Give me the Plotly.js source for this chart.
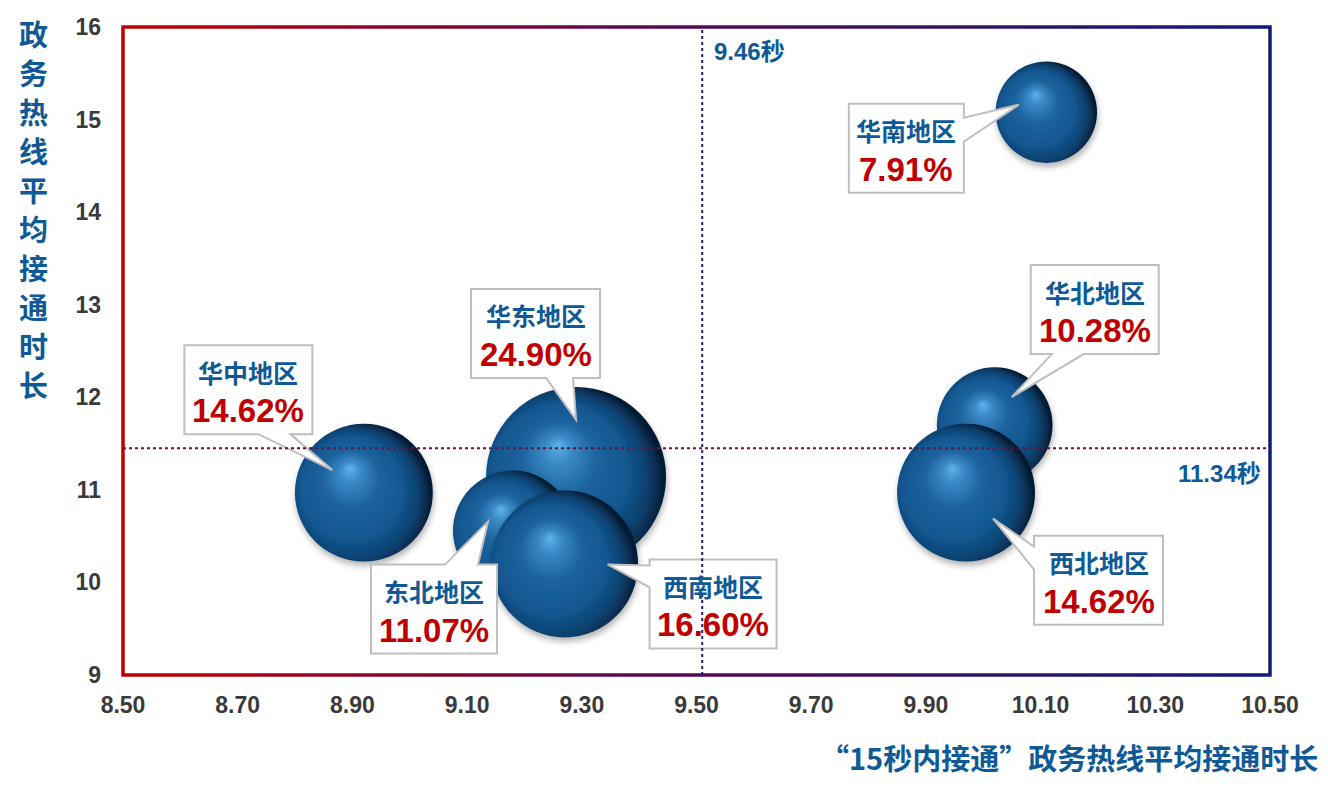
<!DOCTYPE html>
<html><head><meta charset="utf-8">
<script src="https://cdn.plot.ly/plotly-3.0.1.min.js"></script>
<style>html,body{margin:0;padding:0;background:#fff}#chart{width:1328px;height:801px}</style>
</head><body><div id="chart"></div>
<script>
// ---------------- data ----------------
const regions = ['华南地区','华北地区','西北地区','华中地区','华东地区','东北地区','西南地区'];
const avgTime15 = [10.11, 10.02, 9.97, 8.92, 9.29, 9.18, 9.27];      // x: “15秒内接通”政务热线平均接通时长
const avgTimeAll = [15.08, 11.70, 10.97, 10.97, 11.14, 10.56, 10.20]; // y: 政务热线平均接通时长
const shares = [7.91, 10.28, 14.62, 14.62, 24.90, 11.07, 16.60];
const shareLabels = ['7.91%','10.28%','14.62%','14.62%','24.90%','11.07%','16.60%'];
const xTickVals = [8.5, 8.7, 8.9, 9.1, 9.3, 9.5, 9.7, 9.9, 10.1, 10.3, 10.5];
const xTickText = ['8.50','8.70','8.90','9.10','9.30','9.50','9.70','9.90','10.10','10.30','10.50'];
const yTickVals = [9, 10, 11, 12, 13, 14, 15, 16];
const yTickText = ['9','10','11','12','13','14','15','16'];
const refX = 9.51, refXLabel = '9.46秒';
const refY = 11.45, refYLabel = '11.34秒';
const xTitle = '“15秒内接通”政务热线平均接通时长';
const yTitle = '政务热线平均接通时长';

// ---------------- layout / style ----------------
const W = 1328, H = 801;
const M = {l:123, r:58, t:27, b:126};
const xRange = [8.5, 10.5], yRange = [9, 16];
const plotW = W - M.l - M.r, plotH = H - M.t - M.b;
const xPerPx = (xRange[1]-xRange[0]) / plotW, yPerPx = (yRange[1]-yRange[0]) / plotH;
const maxRadius = 90;

// callout geometry, pixels relative to bubble centre
const boxDx = [-140, 100, 132.5, -115.5, -40.5, -79, 148.5];
const boxDy = [36, -115.5, 87.5, -103, -143.5, 78.5, 40];
const boxW  = [115, 128, 129, 128, 129, 126, 127];
const boxH  = 89;
const tailSide = ['right','bottom','left','bottom','bottom','top','left'];
const tailA = [-30.5, -43, -33.5, 10, 10.5, 11, -38.5];
const tailB = [-6.5, -11, -10.5, 42, 37.5, 44, -16.5];
const tipDx = [-27.5, 17, 27, -31.5, 0, -25, 43];
const tipDy = [-7.5, -28, 26, -22.5, -57, -9, 0.5];

const BLUE = '#0f5a96', RED = '#c00000', TICK = '#3a3a3a';
const CJK = '"Noto Sans CJK SC", "Noto Sans", sans-serif';
const LAT = '"Liberation Sans", Arial, "Noto Sans CJK SC", sans-serif';

function toData(i, p) {
  return [avgTime15[i] + p[0]*xPerPx, avgTimeAll[i] - p[1]*yPerPx];
}
function calloutPath(i) {
  const cx = boxDx[i], cy = boxDy[i], hw = boxW[i]/2, hh = boxH/2;
  const L = cx-hw, R = cx+hw, T = cy-hh, B = cy+hh;
  const a = tailA[i], b = tailB[i], tip = [tipDx[i], tipDy[i]], s = tailSide[i];
  const pts = [[L,T]];
  if (s === 'top') pts.push([cx+a,T], tip, [cx+b,T]);
  pts.push([R,T]);
  if (s === 'right') pts.push([R,cy+a], tip, [R,cy+b]);
  pts.push([R,B]);
  if (s === 'bottom') pts.push([cx+b,B], tip, [cx+a,B]);
  pts.push([L,B]);
  if (s === 'left') pts.push([L,cy+b], tip, [L,cy+a]);
  return 'M' + pts.map(p => toData(i,p).join(',')).join(' L') + ' Z';
}
const pyToPaper = py => 1 - (py - M.t) / plotH;
const pxToPaper = px => (px - M.l) / plotW;

const shapes = [];
// frame
shapes.push({type:'rect', xref:'paper', yref:'paper', x0:0, x1:1, y0:0, y1:1,
  line:{color:'#5a1050', width:3.5}, layer:'above', fillcolor:'rgba(0,0,0,0)'});
// callouts
regions.forEach((r,i) => shapes.push({type:'path', xref:'x', yref:'y', path:calloutPath(i),
  fillcolor:'#ffffff', line:{color:'#bfbfbf', width:2}, layer:'above'}));
// reference lines
shapes.push({type:'line', xref:'x', yref:'y', x0:refX, x1:refX, y0:yRange[0], y1:yRange[1],
  line:{color:'#2b1b6e', width:2, dash:'dot'}, layer:'above'});
shapes.push({type:'line', xref:'x', yref:'y', x0:xRange[0], x1:xRange[1], y0:refY, y1:refY,
  line:{color:'#7a0a3a', width:2, dash:'dot'}, layer:'above'});

const annotations = [];
regions.forEach((r,i) => {
  const pn = toData(i, [boxDx[i], boxDy[i]-18]);
  const pp = toData(i, [boxDx[i], boxDy[i]+21]);
  annotations.push({x:pn[0], y:pn[1], xref:'x', yref:'y', text:'<b>'+r+'</b>', showarrow:false,
    xanchor:'center', yanchor:'middle', font:{family:CJK, size:25, color:BLUE}});
  annotations.push({x:pp[0], y:pp[1], xref:'x', yref:'y', text:'<b>'+shareLabels[i]+'</b>', showarrow:false,
    xanchor:'center', yanchor:'middle', font:{family:LAT, size:33, color:RED}});
});
// y title, stacked characters
Array.from(yTitle).forEach((ch,k) => annotations.push({xref:'paper', yref:'paper',
  x:pxToPaper(33), y:pyToPaper(33 + 39*k), text:'<b>'+ch+'</b>', showarrow:false,
  xanchor:'center', yanchor:'middle', font:{family:CJK, size:29, color:BLUE}}));
// x title
annotations.push({xref:'paper', yref:'paper', x:pxToPaper(1320), y:pyToPaper(757), text:'<b>'+xTitle+'</b>',
  showarrow:false, xanchor:'right', yanchor:'middle', font:{family:CJK, size:29, color:BLUE}});
// reference labels
annotations.push({xref:'x', yref:'paper', x:refX, y:pyToPaper(52), xshift:10, text:'<b>'+refXLabel+'</b>',
  showarrow:false, xanchor:'left', yanchor:'middle', font:{family:LAT, size:24, color:BLUE}});
annotations.push({xref:'paper', yref:'y', x:pxToPaper(1263), y:refY, yshift:-25, text:'<b>'+refYLabel+'</b>',
  showarrow:false, xanchor:'right', yanchor:'middle', font:{family:LAT, size:24, color:BLUE}});

const trace = {
  type:'scatter', mode:'markers', x:avgTime15, y:avgTimeAll, text:regions,
  marker:{size:shares, sizemode:'area', sizeref:Math.max(...shares)/(2*maxRadius*maxRadius),
    color:'#0b3d6b', gradient:{type:'radial', color:'#5aaee8'}, line:{width:0}, opacity:1},
  cliponaxis:false, hoverinfo:'skip'
};

const layout = {
  width:W, height:H, margin:M, paper_bgcolor:'#ffffff', plot_bgcolor:'#ffffff',
  showlegend:false, hovermode:false,
  xaxis:{range:xRange, tickvals:xTickVals, ticktext:xTickText, showgrid:false, zeroline:false,
    showline:false, ticks:'', ticklabelstandoff:14, tickfont:{family:LAT, size:23, color:TICK, weight:'bold'}},
  yaxis:{range:yRange, tickvals:yTickVals, ticktext:yTickText, showgrid:false, zeroline:false,
    showline:false, ticks:'', ticklabelstandoff:21, tickfont:{family:LAT, size:23, color:TICK, weight:'bold'}},
  shapes:shapes, annotations:annotations
};

Plotly.newPlot('chart', [trace], layout, {staticPlot:true, displayModeBar:false}).then(gd => {
  const NS = 'http://www.w3.org/2000/svg';
  const svg = gd.querySelector('.main-svg');
  let defs = svg.querySelector('defs');
  if (!defs) { defs = document.createElementNS(NS,'defs'); svg.insertBefore(defs, svg.firstChild); }
  function grad(tag, id, attrs, stops) {
    const g = document.createElementNS(NS, tag);
    g.setAttribute('id', id);
    Object.keys(attrs).forEach(k => g.setAttribute(k, attrs[k]));
    stops.forEach(s => { const st = document.createElementNS(NS,'stop');
      st.setAttribute('offset', s[0]); st.setAttribute('stop-color', s[1]); g.appendChild(st); });
    defs.appendChild(g);
  }
  grad('linearGradient','frameGrad',{x1:'0',y1:'0',x2:'1',y2:'0'},
    [['0','#c00000'],['0.45','#5a0a50'],['1','#0d1b7a']]);
  grad('radialGradient','sphereGrad',{cx:'0.42',cy:'0.56',r:'0.6',fx:'0.40',fy:'0.32'},
    [['0','#5fb2ea'],['0.13','#3a88c6'],['0.35','#1c639e'],['0.62','#135790'],['0.8','#0b406e'],['0.95','#051d36'],['1','#051d36']]);
  const f = document.createElementNS(NS,'filter');
  f.setAttribute('id','ballShadow'); f.setAttribute('x','-20%'); f.setAttribute('y','-20%');
  f.setAttribute('width','140%'); f.setAttribute('height','140%');
  const ds = document.createElementNS(NS,'feDropShadow');
  ds.setAttribute('dx','1'); ds.setAttribute('dy','4'); ds.setAttribute('stdDeviation','3');
  ds.setAttribute('flood-color','#000'); ds.setAttribute('flood-opacity','0.3');
  f.appendChild(ds); defs.appendChild(f);
  gd.querySelectorAll('.scatterlayer path.point').forEach(p => {
    p.style.fill = 'url(#sphereGrad)'; p.setAttribute('filter','url(#ballShadow)');
  });
  const sp = gd.querySelectorAll('.layer-above .shapelayer path');
  if (sp.length) sp[0].style.stroke = 'url(#frameGrad)';
});
</script>
</body></html>
